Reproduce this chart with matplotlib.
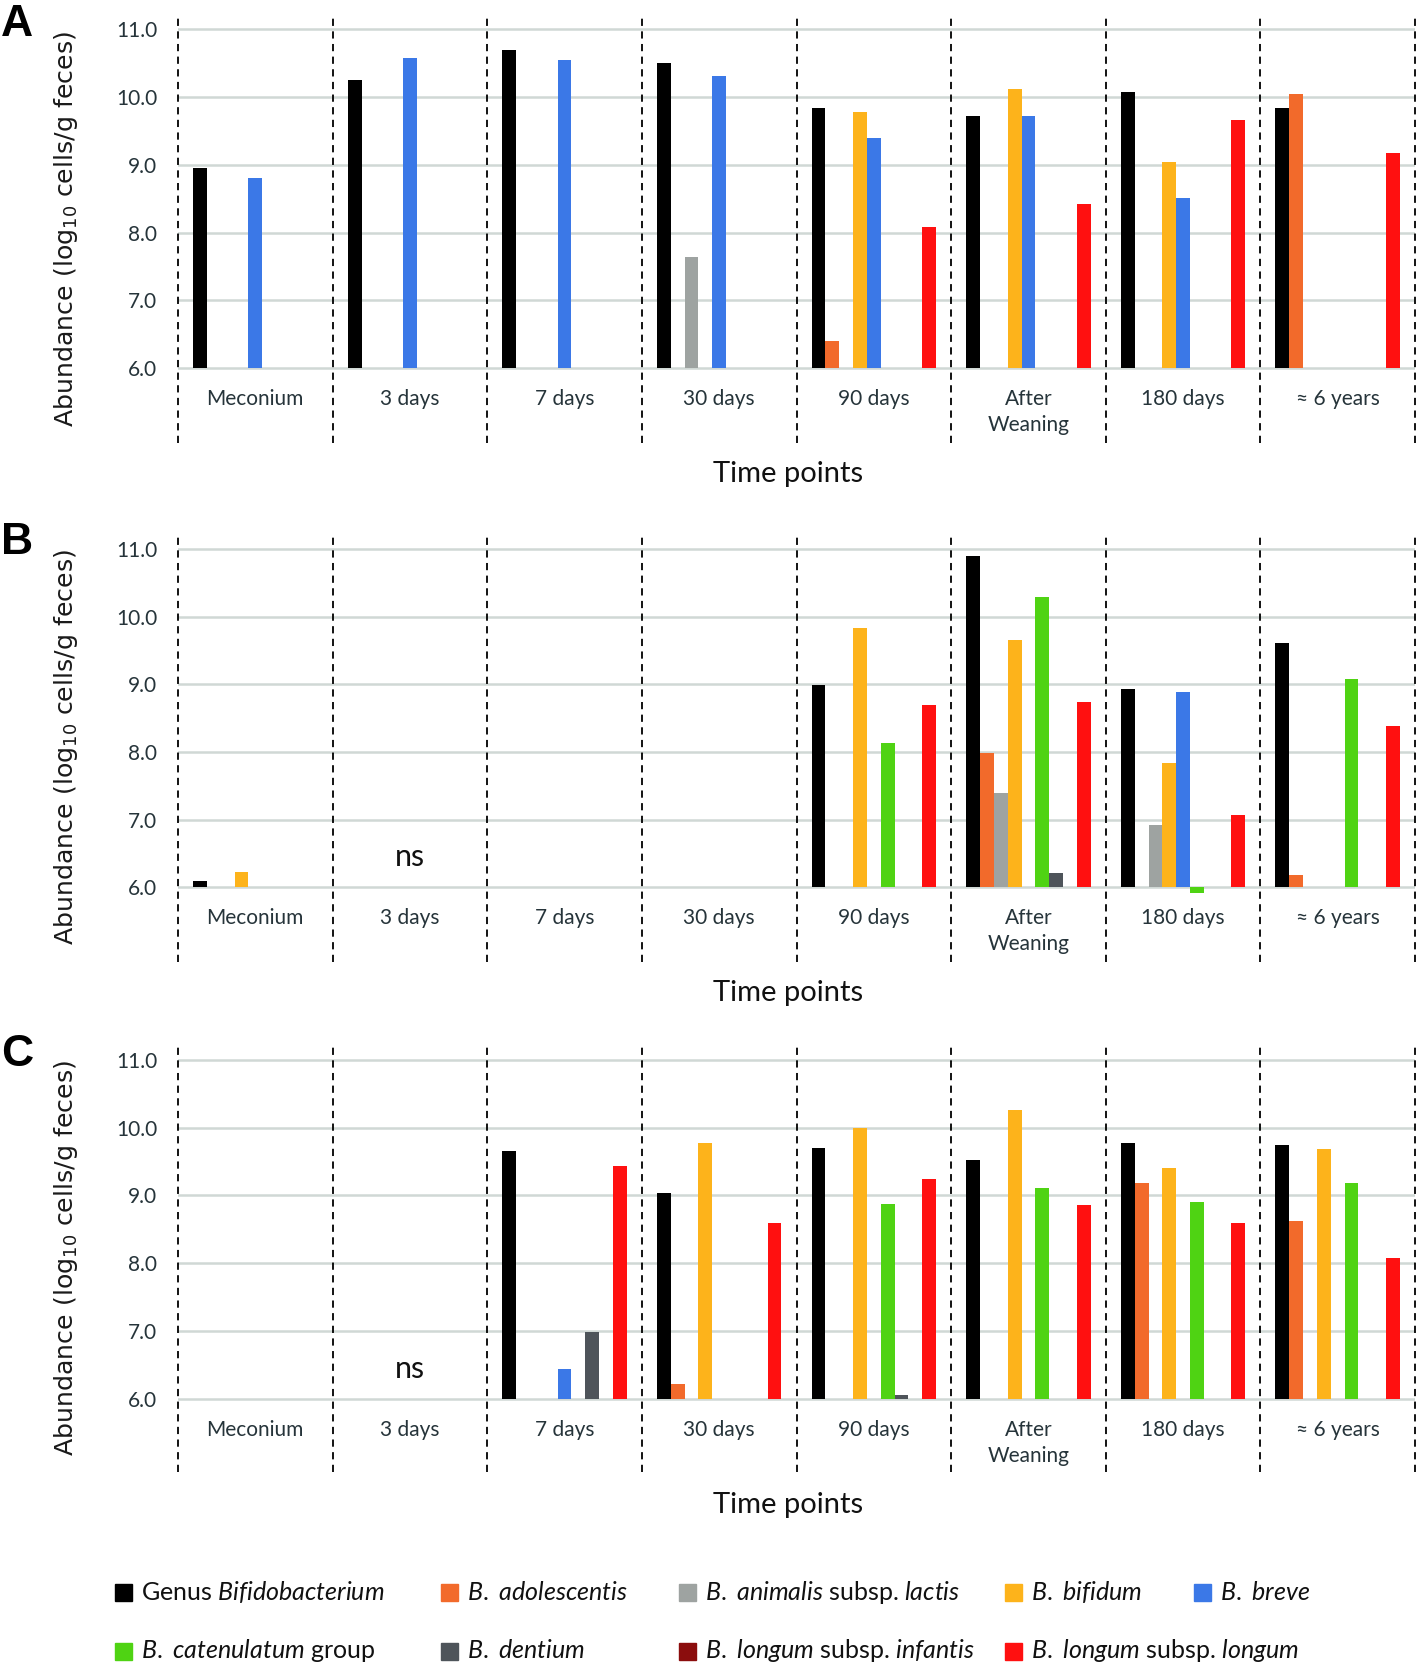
import numpy as np
import matplotlib
matplotlib.use("Agg")
import matplotlib.pyplot as plt
from matplotlib.patches import Rectangle

plt.rcParams['font.family'] = ['Lato', 'DejaVu Sans']
plt.rcParams['mathtext.fontset'] = 'custom'
plt.rcParams['mathtext.rm'] = 'Lato'
plt.rcParams['mathtext.it'] = 'Lato:italic'

nan = np.nan

# time points (x categories)
time_points = ['Meconium', '3 days', '7 days', '30 days', '90 days',
               'After\nWeaning', '180 days', '\u2248 6 years']

# series (legend order)
species = [r"Genus $\mathit{Bifidobacterium}$",
           r"$\mathit{B.\ adolescentis}$",
           r"$\mathit{B.\ animalis}$ subsp. $\mathit{lactis}$",
           r"$\mathit{B.\ bifidum}$",
           r"$\mathit{B.\ breve}$",
           r"$\mathit{B.\ catenulatum}$ group",
           r"$\mathit{B.\ dentium}$",
           r"$\mathit{B.\ longum}$ subsp. $\mathit{infantis}$",
           r"$\mathit{B.\ longum}$ subsp. $\mathit{longum}$"]
colors = ['#000000', '#f26a2b', '#9ea3a1', '#fdb31b', '#3b78e7',
          '#4fd313', '#4e545a', '#8b0d0d', '#ff1010']

# panel A  (log10 cells/g feces)
genus_A    = [8.95, 10.25, 10.69, 10.50, 9.84, 9.72, 10.08, 9.84]
adol_A     = [nan, nan, nan, nan, 6.41, nan, nan, 10.04]
animalis_A = [nan, nan, nan, 7.64, nan, nan, nan, nan]
bifidum_A  = [nan, nan, nan, nan, 9.78, 10.12, 9.05, nan]
breve_A    = [8.80, 10.57, 10.54, 10.31, 9.39, 9.72, 8.51, nan]
caten_A    = [nan] * 8
dentium_A  = [nan] * 8
infantis_A = [nan] * 8
longum_A   = [nan, nan, nan, nan, 8.08, 8.42, 9.66, 9.17]

# panel B
genus_B    = [6.10, nan, nan, nan, 8.99, 10.89, 8.93, 9.61]
adol_B     = [nan, nan, nan, nan, nan, 7.98, nan, 6.18]
animalis_B = [nan, nan, nan, nan, nan, 7.40, 6.92, nan]
bifidum_B  = [6.22, nan, nan, nan, 9.83, 9.65, 7.84, nan]
breve_B    = [nan, nan, nan, nan, nan, nan, 8.89, nan]
caten_B    = [nan, nan, nan, nan, 8.13, 10.29, 5.91, 9.08]
dentium_B  = [nan, nan, nan, nan, nan, 6.21, nan, nan]
infantis_B = [nan] * 8
longum_B   = [nan, nan, nan, nan, 8.70, 8.74, 7.07, 8.39]

# panel C
genus_C    = [nan, nan, 9.65, 9.04, 9.70, 9.53, 9.78, 9.74]
adol_C     = [nan, nan, nan, 6.21, nan, nan, 9.19, 8.63]
animalis_C = [nan] * 8
bifidum_C  = [nan, nan, nan, 9.77, 10.00, 10.26, 9.41, 9.68]
breve_C    = [nan, nan, 6.44, nan, nan, nan, nan, nan]
caten_C    = [nan, nan, nan, nan, 8.87, 9.11, 8.90, 9.18]
dentium_C  = [nan, nan, 6.98, nan, 6.05, nan, nan, nan]
infantis_C = [nan] * 8
longum_C   = [nan, nan, 9.44, 8.59, 9.24, 8.86, 8.59, 8.08]

panel_A = [genus_A, adol_A, animalis_A, bifidum_A, breve_A, caten_A, dentium_A, infantis_A, longum_A]
panel_B = [genus_B, adol_B, animalis_B, bifidum_B, breve_B, caten_B, dentium_B, infantis_B, longum_B]
panel_C = [genus_C, adol_C, animalis_C, bifidum_C, breve_C, caten_C, dentium_C, infantis_C, longum_C]

W, H = 1417, 1663
fig = plt.figure(figsize=(W / 100, H / 100), dpi=100)

# (letter, data, y of 11.0, y of 6.0, top, bottom, ns) in pixels
panels = [('A', panel_A, 29.3, 368.3, 15, 443, False),
          ('B', panel_B, 549, 887.3, 533, 962, True),
          ('C', panel_C, 1060, 1398.7, 1045, 1472, True)]

x_left, x_right = 178, 1415
bw = 0.0894
txt_col = '#26343a'

for letter, data, y11, y6, top, bottom, ns in panels:
    ax = fig.add_axes([x_left / W, 1 - bottom / H, (x_right - x_left) / W, (bottom - top) / H])
    k = (y6 - y11) / 5.0
    ax.set_ylim(6 - (bottom - y6) / k, 11 + (y11 - top) / k)
    ax.set_xlim(0, 8)
    y_of = lambda p: 6 - (p - y6) / k

    for v in range(6, 12):
        ax.axhline(v, color='#d0d8d5', lw=1.8, zorder=0)
    for b in range(9):
        ax.axvline(b, color='black', ls=(0, (4, 3)), lw=1.3, zorder=1, clip_on=False)

    x = np.arange(8)
    for j, vals in enumerate(data):
        vals = np.array(vals)
        ax.bar(x + 0.5 + (j - 4) * bw, vals - 6, bottom=6, width=bw,
               color=colors[j], zorder=3, linewidth=0)

    for i, lab in enumerate(time_points):
        ax.text(i + 0.5, y_of(y6 + 21), lab, ha='center', va='top', fontsize=15,
                color=txt_col, linespacing=1.38)
    ax.text((788 - x_left) / 154.6, y_of(y6 + 106), 'Time points', ha='center',
            va='center', fontsize=21, color='#111111')
    if ns:
        ax.text(1.5, y_of(y6 - 30), 'ns', ha='center', va='center', fontsize=22,
                color='#111111')

    ax.set_yticks(range(6, 12))
    ax.set_yticklabels(['%.1f' % v for v in range(6, 12)])
    ax.tick_params(axis='y', length=0, pad=15, labelsize=15, labelcolor=txt_col)
    ax.set_xticks([])
    for s in ax.spines.values():
        s.set_visible(False)
    ax.patch.set_alpha(0)

    ax.text(-(x_left - 66) / (x_right - x_left), 0.5,
            r"Abundance (log$_{10}$ cells/g feces)", transform=ax.transAxes,
            rotation=90, ha='center', va='center', fontsize=18.2,
            family='DejaVu Sans', math_fontfamily='dejavusans', color='#1a1a1a')

    fig.text(1 / W, 1 - (top + 10) / H, letter, fontsize=32, fontweight='bold',
             family='Liberation Sans', ha='left', va='center')

# legend, drawn in pixel coordinates
lg = fig.add_axes([0, 0, 1, 1])
lg.set_xlim(0, W)
lg.set_ylim(H, 0)
lg.axis('off')
lg.patch.set_alpha(0)
leg_x = [115, 441, 679, 1005, 1194, 115, 441, 679, 1005]
leg_y = [1592, 1592, 1592, 1592, 1592, 1651, 1651, 1651, 1651]
for j in range(len(species)):
    lg.add_patch(Rectangle((leg_x[j], leg_y[j] - 8.5), 17, 17, color=colors[j]))
    lg.text(leg_x[j] + 26, leg_y[j], species[j], fontsize=18, va='center', ha='left',
            color='#111111')

fig.savefig('out.png', dpi=100)
